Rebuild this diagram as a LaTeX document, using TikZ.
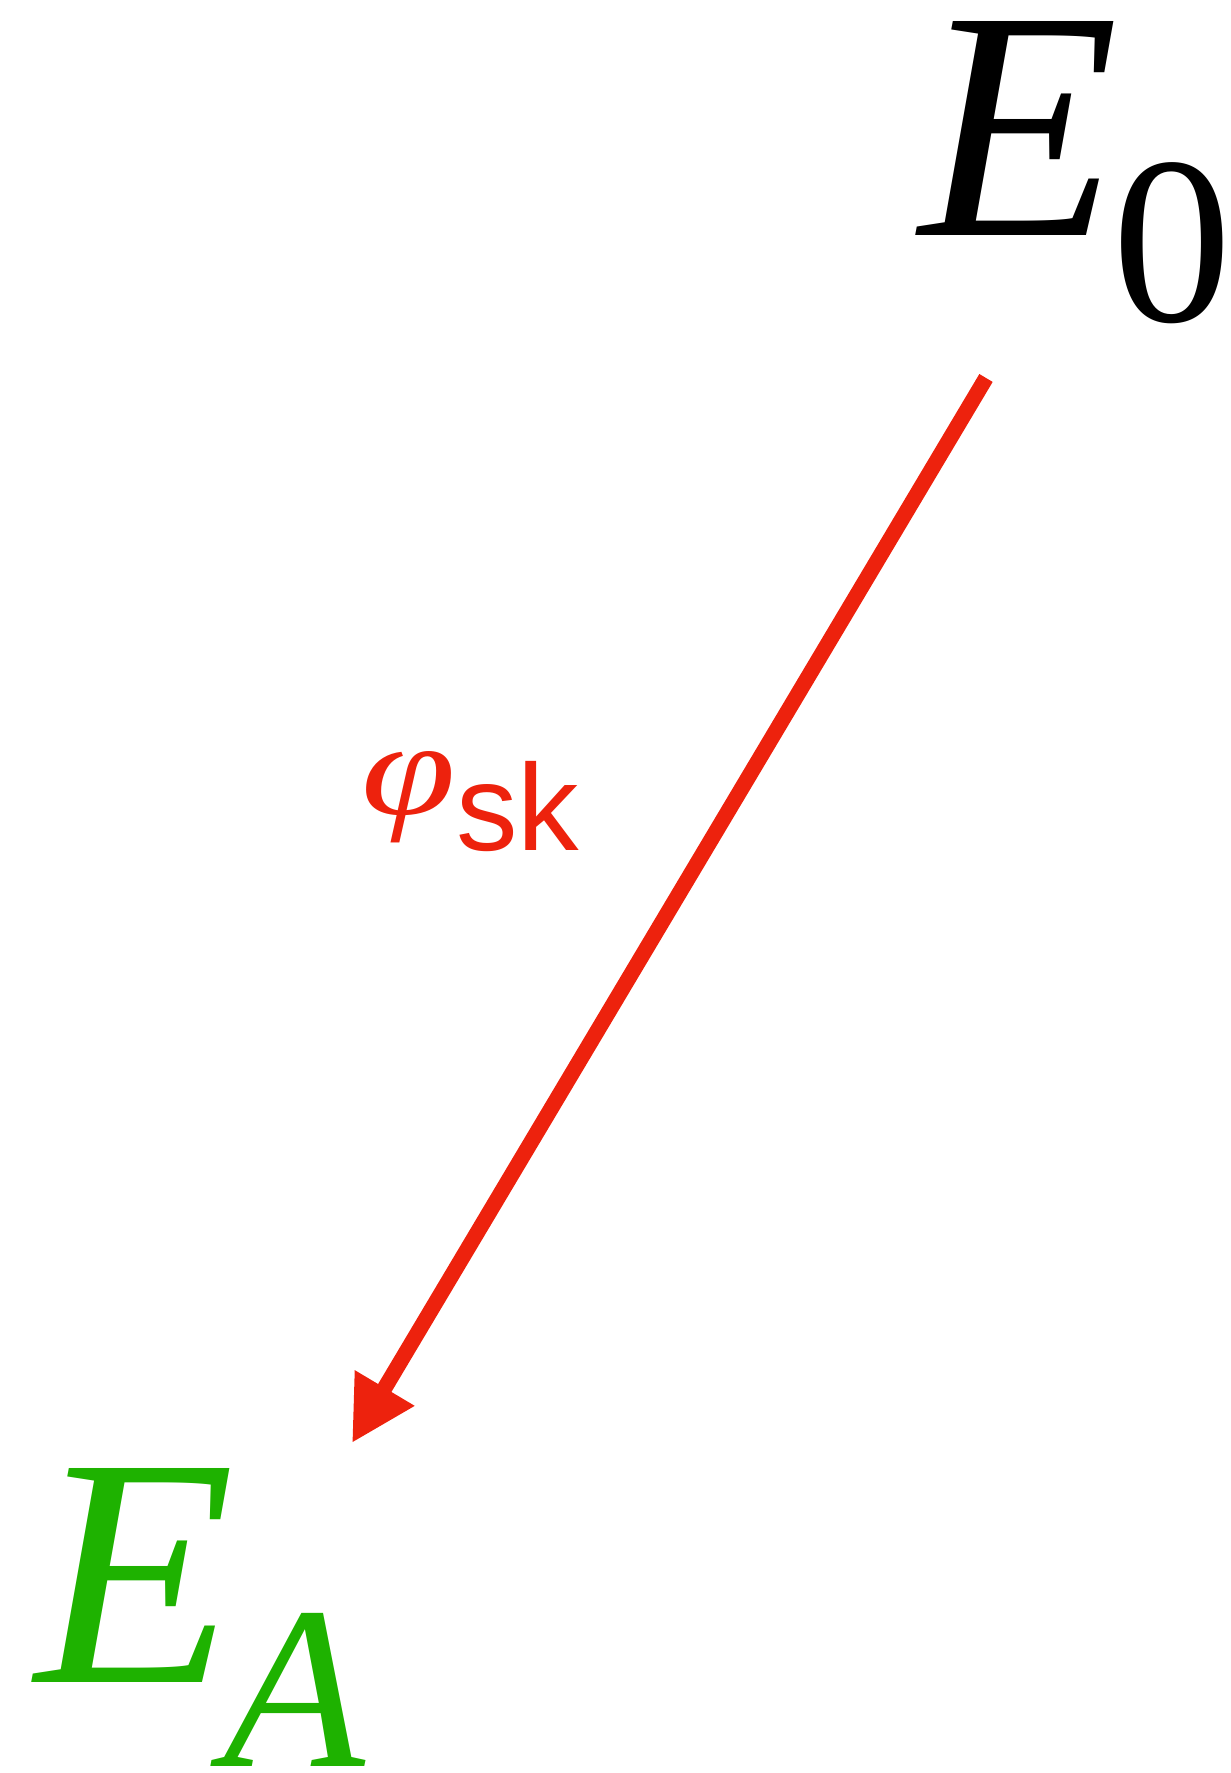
\documentclass[tikz,border=0pt]{standalone}
\usepackage{fontspec}
\setmainfont{Liberation Serif}
\setsansfont{Liberation Sans}
\usetikzlibrary{arrows.meta, positioning}
\usepackage{xcolor}
\definecolor{mapred}{RGB}{237,34,13}
\definecolor{curvegreen}{RGB}{30,178,0}

\begin{document}
\begin{tikzpicture}[
    curve/.style={inner sep=0pt, anchor=base west, font=\fontsize{93}{93}\selectfont},
    maplabel/.style={inner sep=0pt, anchor=base west, text=mapred, font=\fontsize{38}{38}\selectfont},
    maparrow/.style={-{Triangle[length=0.64cm, width=0.65cm]}, line width=0.155cm, draw=mapred}
]
    \useasboundingbox (0,0) rectangle (12.30,17.73);
    \node[curve] (E0) at (9.19,15.37) {\itshape E\kern-0.07cm\raisebox{-0.86cm}{\fontsize{68}{68}\selectfont\upshape 0}};
    \node[curve, text=curvegreen] (EA) at (0.35,0.90) {\itshape E\kern-0.12cm\raisebox{-0.83cm}{\fontsize{66}{66}\selectfont A}};
    \node[maplabel] (phi) at (3.61,9.58) {\itshape\scalebox{1.28}[1]{φ}\raisebox{-0.36cm}{\fontsize{35}{35}\selectfont\sffamily\upshape sk}};
    \coordinate (from) at (9.86,13.95);
    \coordinate (to) at (3.52,3.30);
    \draw[maparrow] (from) -- (to);
\end{tikzpicture}
\end{document}
